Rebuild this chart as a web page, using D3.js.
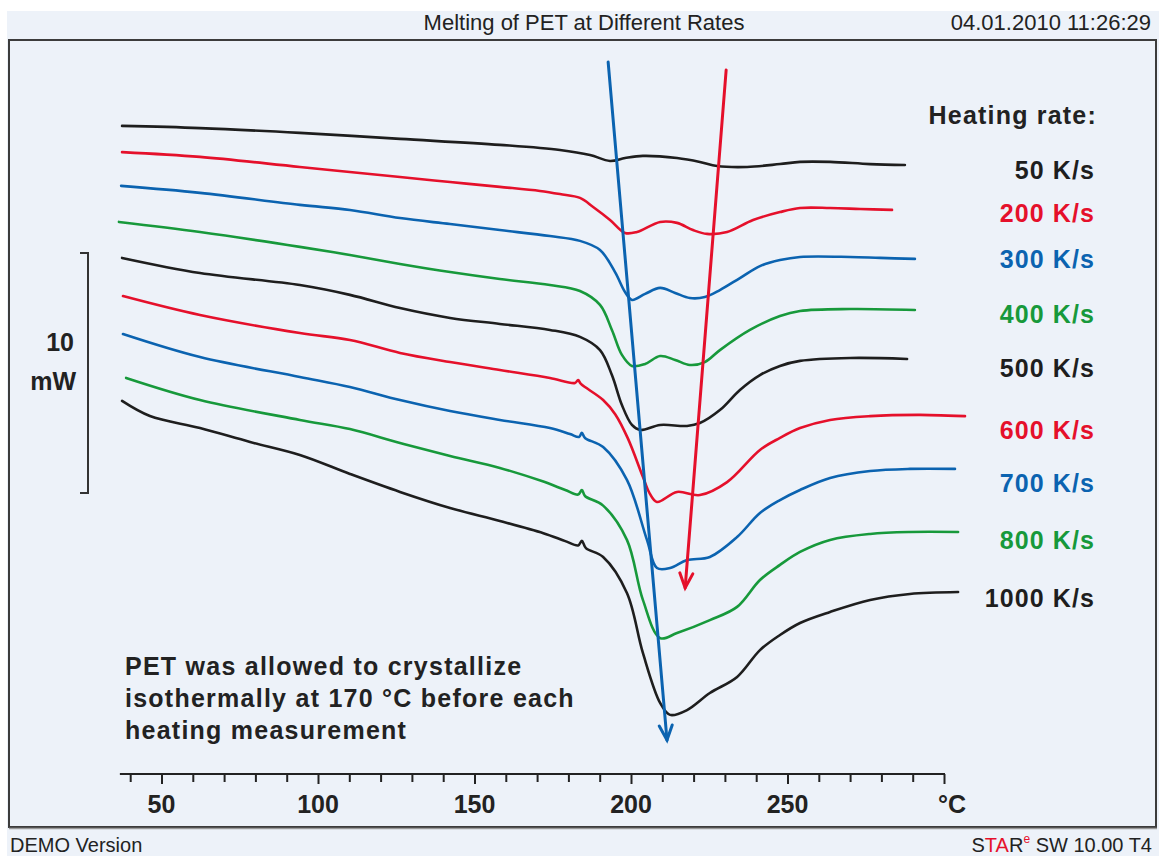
<!DOCTYPE html>
<html><head><meta charset="utf-8">
<script src="https://cdn.jsdelivr.net/npm/d3@7"></script>
<style>body{margin:0;background:#fff}svg{display:block}</style>
</head><body><svg id="c" width="1159" height="856"></svg>
<script>
// ---------- DATA (temperature °C, heat flow mW) ----------
const rates = ["50 K/s","200 K/s","300 K/s","400 K/s","500 K/s","600 K/s","700 K/s","800 K/s","1000 K/s"];
const seriesColors = ["#1e1e1e","#e5102b","#0b63b0","#17993b","#1e1e1e","#e5102b","#0b63b0","#17993b","#1e1e1e"];

const r50 = [[37.4,26.42],[62.3,26.33],[94.2,26.13],[126.2,25.88],[158.1,25.63],[177.3,25.42],[186.9,25.21],[193.3,24.96],[198.1,25.08],[203.8,25.17],[214.7,25.08],[222.0,24.92],[227.5,24.75],[237.1,24.71],[247.6,24.83],[254.0,24.92],[263.6,24.92],[276.4,24.83],[287.5,24.79]];
const r200 = [[37.4,25.33],[62.3,25.13],[94.2,24.71],[126.2,24.29],[142.2,24.08],[158.1,23.88],[170.9,23.71],[177.3,23.58],[183.7,23.42],[187.9,23.04],[193.3,22.5],[198.1,21.96],[201.9,22.0],[209.3,22.42],[214.7,22.38],[219.8,22.08],[224.3,21.92],[230.7,22.0],[239.0,22.5],[247.6,22.83],[254.0,23.0],[263.6,23.0],[273.2,22.96],[283.4,22.92]];
const r300 = [[37.1,23.92],[62.3,23.63],[94.2,23.13],[110.2,22.92],[126.2,22.58],[142.2,22.33],[158.1,22.08],[174.1,21.83],[183.7,21.63],[190.1,21.25],[194.9,20.33],[198.1,19.5],[200.3,19.17],[204.5,19.42],[209.3,19.67],[214.1,19.46],[218.8,19.25],[223.6,19.29],[228.4,19.58],[234.8,20.08],[241.2,20.58],[247.6,20.83],[254.0,20.96],[270.0,20.96],[279.6,20.92],[290.7,20.88]];
const r400 = [[36.4,22.42],[62.3,22.0],[94.2,21.38],[110.2,21.04],[126.2,20.67],[142.2,20.33],[158.1,20.04],[174.1,19.79],[183.7,19.54],[190.1,18.96],[193.9,17.92],[197.1,16.88],[200.3,16.42],[204.5,16.5],[209.3,16.83],[214.1,16.67],[218.8,16.46],[223.6,16.58],[228.4,17.08],[238.0,17.92],[247.6,18.5],[254.0,18.71],[270.0,18.79],[290.7,18.75]];
const r500 = [[37.4,20.92],[62.3,20.29],[94.2,19.79],[110.2,19.38],[126.2,18.83],[142.2,18.42],[158.1,18.17],[174.1,17.92],[183.7,17.63],[190.1,17.08],[193.9,16.04],[197.1,14.79],[200.3,13.96],[202.9,13.75],[209.3,13.96],[217.9,13.92],[222.0,14.04],[228.4,14.58],[234.8,15.42],[241.2,16.04],[247.6,16.42],[254.0,16.63],[270.0,16.75],[288.2,16.71]];
const r600 = [[37.7,19.33],[62.3,18.54],[94.2,17.79],[110.2,17.5],[126.2,16.96],[142.2,16.58],[158.1,16.25],[174.1,15.92],[182.1,15.71],[183.1,15.83],[184.0,15.67],[191.1,15.0],[195.0,14.4],[199.0,13.4],[203.8,11.8],[206.0,11.1],[208.3,10.75],[214.7,11.17],[222.0,11.04],[230.7,11.58],[241.2,12.92],[247.6,13.42],[254.0,13.83],[263.6,14.17],[276.4,14.33],[292.3,14.38],[306.7,14.33]];
const r700 = [[37.7,17.75],[62.3,16.79],[94.2,15.96],[110.2,15.54],[126.2,15.0],[142.2,14.54],[158.1,14.17],[174.1,13.83],[180.5,13.58],[183.4,13.46],[184.3,13.63],[185.3,13.42],[191.1,13.04],[198.7,11.67],[205.1,9.17],[208.3,8.0],[212.5,8.0],[217.9,8.33],[225.2,8.46],[233.9,9.29],[241.2,10.29],[247.6,10.83],[254.0,11.25],[263.6,11.75],[276.4,12.04],[289.1,12.13],[303.5,12.13]];
const r800 = [[38.7,15.92],[62.3,15.0],[94.2,14.17],[110.2,13.79],[126.2,13.21],[142.2,12.67],[158.1,12.17],[172.0,11.6],[179.0,11.25],[183.1,11.06],[184.3,11.25],[185.3,11.0],[191.1,10.6],[198.7,9.17],[203.8,6.67],[209.3,5.08],[214.7,5.29],[225.2,5.83],[233.9,6.38],[241.2,7.5],[247.6,8.13],[254.0,8.67],[263.6,9.17],[276.4,9.42],[289.1,9.5],[304.5,9.5]];
const r1000 = [[37.4,14.96],[46.3,14.33],[62.3,13.83],[78.3,13.25],[94.2,12.71],[110.2,11.92],[126.2,11.17],[142.2,10.5],[158.1,9.96],[172.0,9.45],[179.0,9.12],[183.1,8.94],[184.3,9.13],[185.6,8.83],[191.1,8.46],[198.7,6.96],[203.8,4.46],[209.3,2.38],[212.5,1.88],[217.9,2.08],[225.2,2.79],[233.9,3.46],[241.2,4.58],[247.6,5.21],[254.0,5.71],[263.6,6.17],[276.4,6.67],[289.1,6.92],[304.5,7.0]];
const seriesData = [r50,r200,r300,r400,r500,r600,r700,r800,r1000];

// trend arrows [start, end] in (°C, mW)
const blueArrow = [[192.7,29.08],[211.5,0.83]];
const redArrow  = [[230.4,28.75],[217.3,7.17]];

// axis
const tickValues = d3.range(40, 301, 10);
const tickLabels = [50,100,150,200,250];
const unitLabel = "°C";
const scaleBar = [11.125, 21.125]; // 10 mW
const scaleBarText = ["10","mW"];

const title = "Melting of PET at Different Rates";
const stamp = "04.01.2010 11:26:29";
const legendTitle = "Heating rate:";
const note = ["PET was allowed to crystallize","isothermally at 170 °C before each","heating measurement"];

// ---------- LAYOUT ----------
const svg = d3.select("#c");
const W = 1159, H = 856;
const bg = "#edf2f9";
const font = "'Liberation Sans', Arial, Helvetica, sans-serif";

svg.append("rect").attr("width",W).attr("height",H).attr("fill","#fff");
svg.append("rect").attr("x",7).attr("y",11).attr("width",W-7).attr("height",H-11).attr("fill",bg);

const x = d3.scaleLinear().domain([50,250]).range([161.5,787.5]);
const y = d3.scaleLinear().domain([0,30]).range([760,40]);

// frame
svg.append("rect").attr("x",9).attr("y",40).attr("width",1147).attr("height",787)
  .attr("fill",bg).attr("stroke","#3c3c3c").attr("stroke-width",2);
svg.append("line").attr("x1",9).attr("x2",1157).attr("y1",828.5).attr("y2",828.5).attr("stroke","#9a9a9a").attr("stroke-width",1.5);

// header / footer
svg.append("text").attr("x",584).attr("y",30).attr("text-anchor","middle")
  .attr("font-family",font).attr("font-size",22).attr("fill","#222").text(title);
svg.append("text").attr("x",1151).attr("y",30).attr("text-anchor","end")
  .attr("font-family",font).attr("font-size",22).attr("fill","#222").text(stamp);
svg.append("text").attr("x",10).attr("y",852)
  .attr("font-family",font).attr("font-size",20).attr("fill","#222").text("DEMO Version");
const star = svg.append("text").attr("x",1152).attr("y",852).attr("text-anchor","end")
  .attr("font-family",font).attr("font-size",20).attr("fill","#222");
star.append("tspan").text("S");
star.append("tspan").attr("fill","#e5102b").text("TA");
star.append("tspan").text("R");
star.append("tspan").attr("fill","#e5102b").attr("font-size",12).attr("dy",-9).text("e");
star.append("tspan").attr("dy",9).text(" SW 10.00 T4");

// x axis
const axisY = 774;
const axis = d3.axisBottom(x).tickValues(tickValues).tickSize(9).tickFormat("");
const gAx = svg.append("g").attr("transform",`translate(0,${axisY})`).call(axis);
gAx.select(".domain").remove();
gAx.selectAll(".tick line").attr("stroke","#222").attr("stroke-width",2)
  .attr("y2", d => d%50===0 ? 10 : 8);
gAx.append("line").attr("x1",x(36.7)).attr("x2",x(300)+1).attr("stroke","#222").attr("stroke-width",2);
gAx.selectAll(".lbl").data(tickLabels).join("text")
  .attr("x",d=>x(d)).attr("y",39).attr("text-anchor","middle")
  .attr("font-family",font).attr("font-weight","bold").attr("font-size",25).attr("fill","#222").text(d=>d);
gAx.append("text").attr("x",x(300)+8).attr("y",39).attr("text-anchor","middle")
  .attr("font-family",font).attr("font-weight","bold").attr("font-size",25).attr("fill","#222").text(unitLabel);

// scale bar
const sb = svg.append("g").attr("stroke","#333").attr("stroke-width",2).attr("fill","none");
sb.append("path").attr("d",`M80,${y(scaleBar[1])}H88V${y(scaleBar[0])}H80`);
svg.append("text").attr("x",74).attr("y",351).attr("text-anchor","end")
  .attr("font-family",font).attr("font-weight","bold").attr("font-size",25).attr("fill","#222").text(scaleBarText[0]);
svg.append("text").attr("x",76).attr("y",390).attr("text-anchor","end")
  .attr("font-family",font).attr("font-weight","bold").attr("font-size",25).attr("fill","#222").text(scaleBarText[1]);

// curves
const line = d3.line().x(d=>x(d[0])).y(d=>y(d[1])).curve(d3.curveCatmullRom.alpha(0.5));
svg.append("g").selectAll("path").data(seriesData).join("path")
  .attr("d",line).attr("fill","none").attr("stroke",(d,i)=>seriesColors[i])
  .attr("stroke-width",2.6).attr("stroke-linejoin","round").attr("stroke-linecap","round");

// arrows
function arrow(pts,color){
  const [a,b] = pts;
  const x1=x(a[0]),y1=y(a[1]),x2=x(b[0]),y2=y(b[1]);
  const ang = Math.atan2(y2-y1,x2-x1), L=16, sp=0.42;
  const g = svg.append("g").attr("stroke",color).attr("stroke-width",3).attr("fill","none").attr("stroke-linecap","round");
  g.append("line").attr("x1",x1).attr("y1",y1).attr("x2",x2).attr("y2",y2);
  g.append("path").attr("d",`M${x2-L*Math.cos(ang-sp)},${y2-L*Math.sin(ang-sp)}L${x2},${y2}L${x2-L*Math.cos(ang+sp)},${y2-L*Math.sin(ang+sp)}`)
    .attr("stroke-linejoin","miter");
}
arrow(blueArrow,"#0b63b0");
arrow(redArrow,"#e5102b");

// legend labels
const labelY = [179,222,268,323,377,439,492,549,607];
svg.append("text").attr("x",1097).attr("y",124).attr("text-anchor","end")
  .attr("font-family",font).attr("font-weight","bold").attr("font-size",25).attr("letter-spacing",1.2).attr("fill","#222").text(legendTitle);
svg.append("g").selectAll("text").data(rates).join("text")
  .attr("x",1095).attr("y",(d,i)=>labelY[i]).attr("text-anchor","end")
  .attr("font-family",font).attr("font-weight","bold").attr("font-size",25).attr("letter-spacing",1.1)
  .attr("fill",(d,i)=>seriesColors[i]).text(d=>d);

// note
svg.append("g").selectAll("text").data(note).join("text")
  .attr("x",125).attr("y",(d,i)=>675+i*32)
  .attr("font-family",font).attr("font-weight","bold").attr("font-size",25).attr("letter-spacing",1.25)
  .attr("fill","#222").text(d=>d);
</script></body></html>
